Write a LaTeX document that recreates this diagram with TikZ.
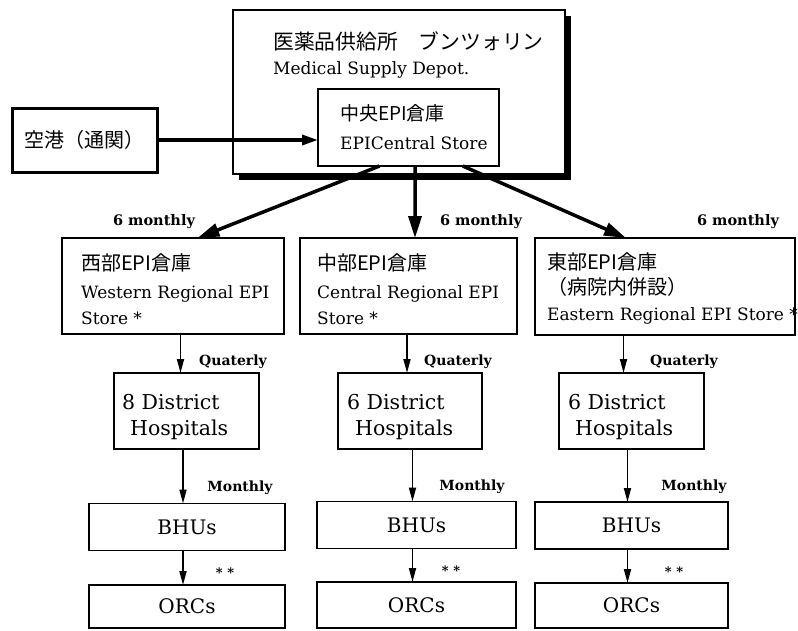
\documentclass[tikz,border=0pt]{standalone}
\usepackage{fontspec}
\setmainfont{DejaVu Serif}
\newfontfamily\cjk{Noto Sans CJK JP}
\usetikzlibrary{arrows.meta,shadows,calc}
\begin{document}
\begin{tikzpicture}[x=1pt,y=-1pt,
  box/.style={draw, line width=1.6pt, fill=white, inner sep=0pt, outer sep=0pt},
  bigarr/.style={-{Triangle[length=22pt,width=13pt]}, line width=3.5pt},
  darr/.style={-{Triangle[length=14pt,width=7pt]}, line width=1.8pt},
  lab/.style={font=\bfseries\fontsize{14}{16}\selectfont, inner sep=0pt},
  mlab/.style={font=\bfseries\fontsize{14.5}{17}\selectfont, inner sep=0pt},
  slab/.style={font=\bfseries\fontsize{13}{15}\selectfont, inner sep=0pt},
  jtxt/.style={anchor=base west, inner sep=0pt, font=\cjk\fontsize{20}{24}\selectfont},
  etxt/.style={anchor=base west, inner sep=0pt, font=\fontsize{17}{20}\selectfont},
  htxt/.style={anchor=base west, inner sep=0pt, font=\fontsize{20.5}{24}\selectfont},
  small/.style={box, minimum width=196pt, minimum height=47pt, font=\fontsize{20}{24}\selectfont}
]
\useasboundingbox (0,0) rectangle (798,630);

% depot
\node[box, line width=1.8pt, minimum width=332pt, minimum height=164pt,
      drop shadow={shadow xshift=6pt, shadow yshift=-6pt, fill=black, opacity=1}] (depot) at (399,92) {};
\node[jtxt, font=\cjk\fontsize{20.8}{24}\selectfont] (dj) at (273,49) {医薬品供給所　ブンツォリン};
\node[etxt] (de) at (273,74) {Medical Supply Depot.};

% central store
\node[box, minimum width=181pt, minimum height=77pt] (cs) at (408.5,127.5) {};
\node[jtxt, font=\cjk\fontsize{19}{22}\selectfont] (csj) at (340,120) {中央EPI倉庫};
\node[etxt] (cse) at (340,149) {EPICentral Store};

% airport
\node[box, line width=3pt, minimum width=145pt, minimum height=64pt,
      font=\cjk\fontsize{20}{24}\selectfont] (air) at (84.5,140) {空港（通関）};
\draw[-{Triangle[length=16pt,width=10pt]}, line width=3.4pt] (air.east) -- (cs.west |- air.east);

% regional stores
\node[box, minimum width=222pt, minimum height=96pt] (rw) at (173,286) {};
\node[box, minimum width=217pt, minimum height=96pt] (rc) at (408.5,286) {};
\node[box, minimum width=260pt, minimum height=97pt] (re) at (665,286.5) {};

\node[jtxt] (rwj) at (81,270) {西部EPI倉庫};
\node[etxt] (rwe1) at (81,298) {Western Regional EPI};
\node[etxt] (rwe2) at (81,324) {Store *};

\node[jtxt] (rcj) at (317,270) {中部EPI倉庫};
\node[etxt] (rce1) at (317,298) {Central Regional EPI};
\node[etxt] (rce2) at (317,324) {Store *};

\node[jtxt] (rej1) at (547,269) {東部EPI倉庫};
\node[jtxt] (rej2) at (547,294) {（病院内併設）};
\node[etxt] (ree) at (547,320) {Eastern Regional EPI Store *};

% big arrows
\draw[bigarr] ($(cs.south west)!0.34!(cs.south east)$) -- ($(rw.north west)!0.61!(rw.north east)$);
\draw[bigarr] ($(cs.south west)!0.536!(cs.south east)$) -- ($(rc.north west)!0.53!(rc.north east)$);
\draw[bigarr] ($(cs.south west)!0.80!(cs.south east)$) -- ($(re.north west)!0.35!(re.north east)$);

\node[mlab] (m6w) at (154,222) {6 monthly};
\node[mlab] (m6c) at (481,222) {6 monthly};
\node[mlab] (m6e) at (738,222) {6 monthly};

% district hospitals
\node[box, minimum width=145pt, minimum height=76pt] (hw) at (186.5,411) {};
\node[box, minimum width=144pt, minimum height=76pt] (hc) at (410,411) {};
\node[box, minimum width=145pt, minimum height=76pt] (he) at (631.5,411) {};

\node[htxt] (hw1) at (122,409) {8 District};
\node[htxt] (hw2) at (130,435) {Hospitals};
\node[htxt] (hc1) at (347,409) {6 District};
\node[htxt] (hc2) at (355,435) {Hospitals};
\node[htxt] (he1) at (568,409) {6 District};
\node[htxt] (he2) at (575,435) {Hospitals};

\draw[darr] ([xshift=-6pt]hw.north |- rw.south) -- ([xshift=-6pt]hw.north);
\draw[darr] ([xshift=-3pt]hc.north |- rc.south) -- ([xshift=-3pt]hc.north);
\draw[darr] ([xshift=-8pt]he.north |- re.south) -- ([xshift=-8pt]he.north);

\node[lab] (qw) at (233,362) {Quaterly};
\node[lab] (qc) at (458,362) {Quaterly};
\node[lab] (qe) at (684,362) {Quaterly};

% BHUs
\node[small] (bw) at (187,527) {BHUs};
\node[small, minimum width=199pt] (bc) at (416.5,525) {BHUs};
\node[small, minimum width=193pt] (be) at (631.5,525.5) {BHUs};

\draw[darr] ([xshift=-4pt]bw.north |- hw.south) -- ([xshift=-4pt]bw.north);
\draw[darr] ([xshift=-4pt]bc.north |- hc.south) -- ([xshift=-4pt]bc.north);
\draw[darr] ([xshift=-4pt]be.north |- he.south) -- ([xshift=-4pt]be.north);

\node[lab] (mw) at (240,488) {Monthly};
\node[lab] (mc) at (472,487) {Monthly};
\node[lab] (me) at (694,487) {Monthly};

% ORCs
\node[small, minimum height=43pt] (ow) at (187,606.5) {ORCs};
\node[small, minimum width=199pt, minimum height=46pt] (oc) at (416.5,605) {ORCs};
\node[small, minimum width=193pt, minimum height=45pt] (oe) at (631.5,605.5) {ORCs};

\draw[darr] ([xshift=-4pt]ow.north |- bw.south) -- ([xshift=-4pt]ow.north);
\draw[darr] ([xshift=-4pt]oc.north |- bc.south) -- ([xshift=-4pt]oc.north);
\draw[darr] ([xshift=-4pt]oe.north |- be.south) -- ([xshift=-4pt]oe.north);

\node[slab] (sw) at (225,573) {*~*};
\node[slab] (sc) at (451,571) {*~*};
\node[slab] (se) at (674,572) {*~*};
\end{tikzpicture}
\end{document}
